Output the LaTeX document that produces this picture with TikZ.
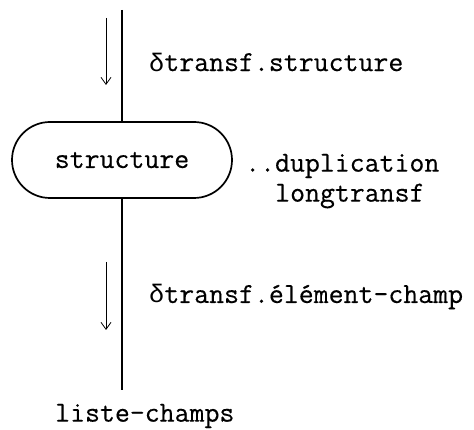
\documentclass[tikz,border=0pt]{standalone}
\usepackage{fontspec}
\newfontfamily\grk{Liberation Mono}
\newfontfamily\tw{Latin Modern Mono}[FakeBold=0.4]
\usetikzlibrary{arrows.meta,shapes.misc}
\newcommand{\dlt}{{\grk\fontsize{25.3}{30}\selectfont δ}}
\begin{document}
\begin{tikzpicture}[x=1pt,y=-1pt,
  txt/.style={font=\tw\fontsize{29}{30}\selectfont, inner sep=0pt},
  main/.style={line width=1.7pt},
  flow/.style={line width=0.8pt, -{Straight Barb[length=7pt,width=10pt]}}]
\useasboundingbox (0,0) rectangle (474,430);
\node[txt, draw, main, rounded rectangle, minimum width=220pt, minimum height=76pt] (box) at (122,160) {structure\hspace{11pt}};
\coordinate (top) at (122,10);
\coordinate (bot) at (122,390);
\draw[main] (top) -- (box.north);
\draw[main] (box.south) -- (bot);
\coordinate (a1s) at (106,18);
\coordinate (a1e) at (106,85);
\draw[flow] (a1s) -- (a1e);
\coordinate (a2s) at (106,262);
\coordinate (a2e) at (106,330);
\draw[flow] (a2s) -- (a2e);
\node[txt, anchor=west] (l1) at (149,62) {\dlt transf.structure};
\node[txt, anchor=west] (l2) at (245,166) {..duplication};
\node[txt, anchor=west] (l3) at (275,196) {longtransf};
\node[txt, anchor=west] (l4) at (149,297) {\dlt transf.élément-champ};
\node[txt, anchor=west] (l5) at (55,416) {liste-champs};
\end{tikzpicture}
\end{document}
